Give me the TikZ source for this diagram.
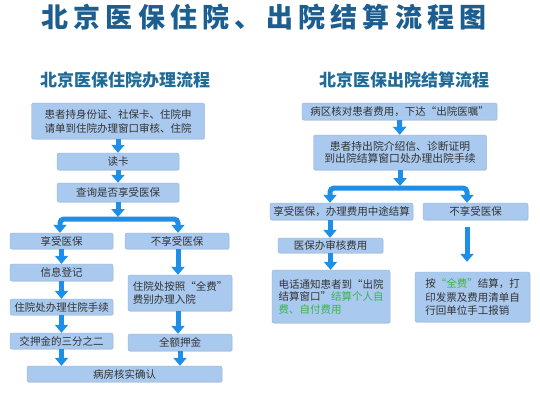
\documentclass[tikz,border=0pt]{standalone}
\usepackage{fontspec}
\setmainfont{Noto Sans CJK SC}
\newfontfamily\titlefont{Noto Sans CJK SC}[LetterSpace=19]
\usepackage{tikz}
\usetikzlibrary{positioning, arrows.meta, calc, shadows}
\usepackage{xcolor}
\definecolor{boxfill}{HTML}{A9C9EE}
\definecolor{boxline}{HTML}{8FB2DC}
\definecolor{boxtext}{HTML}{333333}
\definecolor{arrowblue}{HTML}{1E8FE8}
\definecolor{titleblue}{HTML}{1B5E8F}
\definecolor{subblue}{HTML}{1F6A96}
\definecolor{feegreen}{HTML}{3AB54A}

\begin{document}
\begin{tikzpicture}[
    x=1pt, y=-1pt,
    font=\fontsize{10.5}{13}\selectfont,
    box/.style={rectangle, rounded corners=2pt, draw=boxline, fill=boxfill, text=boxtext, inner sep=1pt, align=center, minimum height=16pt,
        drop shadow={opacity=0.25, shadow xshift=0.6pt, shadow yshift=-0.9pt}},
    ttl/.style={font=\titlefont\fontsize{27}{29}\selectfont\bfseries, text=titleblue},
    sub/.style={font=\fontsize{17}{19}\selectfont\bfseries, text=subblue},
    ar/.style={draw=arrowblue, line width=5pt, -{Triangle[width=13pt, length=8pt]}},
    fork/.style={ar, {Triangle[width=13pt, length=8pt]}-{Triangle[width=13pt, length=8pt]}, rounded corners=4pt}
]
\useasboundingbox (0,0) rectangle (540,400);

\node[ttl] (title) at (264,17) {北京医保住院、出院结算流程图};
\node[sub] (lt) at (125,80) {北京医保住院办理流程};
\node[sub] (rt) at (404,80) {北京医保出院结算流程};

% left: admission
\node[box, minimum width=173pt, minimum height=36pt, font=\fontsize{10.5}{14}\selectfont] (apply) at (118,121) {患者持身份证、社保卡、住院申\\请单到住院办理窗口审核、住院};
\node[box, minimum width=122pt, minimum height=17pt] (card) at (118,161.5) {读卡};
\node[box, minimum width=122pt, minimum height=19pt] (check) at (118,192.5) {查询是否享受医保};
\node[box, minimum width=103pt] (yes) at (61.5,241) {享受医保};
\node[box, minimum width=104pt] (no) at (177,241) {不享受医保};
\node[box, minimum width=103pt, minimum height=17pt] (info) at (61.5,272.5) {信息登记};
\node[box, minimum width=104pt, minimum height=36pt, align=left] (fullfee) at (180,293) {住院处按照“全费”\\费别办理入院};
\node[box, minimum width=103pt] (proc) at (61.5,307) {住院处办理住院手续};
\node[box, minimum width=103pt] (dep) at (61.5,341) {交押金的三分之二};
\node[box, minimum width=104pt, minimum height=17pt] (fulldep) at (180,342.5) {全额押金};
\node[box, minimum width=195pt] (ward) at (124.5,374) {病房核实确认};

\coordinate (lj) at (118,219);
\coordinate (ll) at (60,0);
\coordinate (lr) at (178,0);

% right: discharge
\node[box, minimum width=195pt, minimum height=17pt] (notice) at (399.5,111.5) {病区核对患者费用，下达“出院医嘱”};
\node[box, minimum width=173pt, minimum height=35pt, font=\fontsize{10.8}{12.5}\selectfont] (go) at (400,152.5) {患者持出院介绍信、诊断证明\\到出院结算窗口处办理出院手续};
\node[box, minimum width=143pt, minimum height=17pt] (mid) at (341.5,211.5) {享受医保，办理费用中途结算};
\node[box, minimum width=105pt, minimum height=17pt] (nomid) at (475.5,211.5) {不享受医保};
\node[box, minimum width=105pt, minimum height=15pt] (audit) at (330.5,245.5) {医保办审核费用};
\node[box, minimum width=118pt, minimum height=53pt, align=left, font=\fontsize{10.5}{12.5}\selectfont] (phone) at (331,296.5) {电话通知患者到“出院\\结算窗口”\textcolor{feegreen}{结算个人自}\\\textcolor{feegreen}{费、自付费用}};
\node[box, minimum width=115pt, minimum height=50pt, align=left, font=\fontsize{10.5}{13.5}\selectfont] (selfpay) at (472.5,297) {按\textcolor{feegreen}{“全费”}结算，打\\印发票及费用清单自\\行回单位手工报销};

\coordinate (rj) at (400,188);
\coordinate (rl) at (330,0);
\coordinate (rr) at (467,0);

\draw[ar] (apply) -- (card);
\draw[ar] (card) -- (check);
\draw[ar, shorten >=2pt] (check) -- (lj);
\draw[fork] (ll |- yes.north) |- (lj) -| (lr |- no.north);
\draw[ar] (yes) -- (info);
\draw[ar] (info) -- (proc);
\draw[ar] (proc) -- (dep);
\draw[ar] (lr |- no.south) -- (lr |- fullfee.north);
\draw[ar] (dep.south) -- (dep.south |- ward.north);
\draw[ar] (fulldep.south) -- (fulldep.south |- ward.north);
\draw[ar] (lr |- fullfee.south) -- (lr |- fulldep.north);

\draw[ar] (notice) -- (go);
\draw[ar, shorten >=2pt] (go) -- (rj);
\draw[fork] (rl |- mid.north) |- (rj) -| (rr |- nomid.north);
\draw[ar] (rl |- mid.south) -- (rl |- audit.north);
\draw[ar] (audit.south) -- (audit.south |- phone.north);
\draw[ar, shorten <=7pt, shorten >=10pt] (rr |- nomid.south) -- (rr |- selfpay.north);
\end{tikzpicture}
\end{document}
